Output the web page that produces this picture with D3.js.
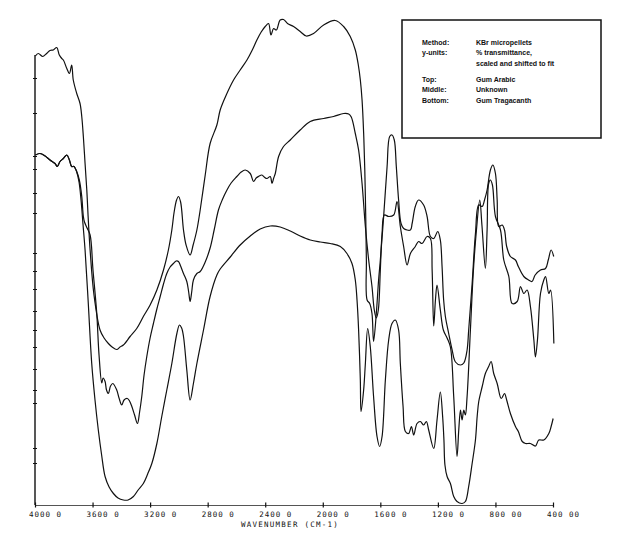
<!DOCTYPE html>
<html><head><meta charset="utf-8">
<script src="https://cdn.jsdelivr.net/npm/d3@7"></script>
<style>
html,body{margin:0;padding:0;background:#fff;}
svg{display:block;}
</style>
</head><body>
<svg id="chart" width="620" height="537"></svg>
<script>
// x-axis ticks (wavenumber, cm-1) and their printed labels
const wnTicks = [4000,3600,3200,2800,2400,2000,1600,1200,800,400];
const wnLabels = ["4000 0","3600 0","3200 0","2800 0","2400 0","2000 0","1600 0","1200 0","800 00","400 00"];
// y-axis tick marks (% transmittance, scaled and shifted)
const yTicks = [8.4,11.4,20.4,23,27.2,31.6,35,38.8,43.2,46.8,50.4,58.4,62.4,67.2,69.8,78.4,85.4];

// Top: Gum Arabic  [wavenumber, %T]
const gumArabic = [[3997,89.8],[3977,90.3],[3946,89.7],[3923,90.2],[3896,90.9],[3873,91.0],[3849,91.5],[3831,90.0],[3814,89.3],[3803,89.0],[3779,87.3],[3761,86.3],[3745,88.0],[3734,85.0],[3710,82.3],[3687,80.3],[3675,77.7],[3664,73.7],[3652,68.3],[3640,63.0],[3631,57.8],[3617,51.0],[3590,42.0],[3548,35.0],[3520,33.4],[3490,32.3],[3464,31.6],[3432,31.1],[3409,31.6],[3386,32.0],[3339,33.7],[3293,35.3],[3247,37.7],[3200,40.0],[3153,43.0],[3107,47.0],[3073,51.0],[3049,55.0],[3033,58.6],[3016,61.0],[3003,61.7],[2988,60.6],[2968,55.0],[2950,52.0],[2922,50.0],[2901,52.0],[2875,55.0],[2852,59.0],[2817,66.0],[2783,72.3],[2736,76.0],[2713,79.0],[2671,82.0],[2620,85.0],[2574,87.0],[2527,89.0],[2490,91.0],[2458,93.0],[2428,94.6],[2400,95.7],[2377,96.3],[2360,94.0],[2342,95.3],[2323,95.0],[2296,97.0],[2273,97.1],[2245,96.3],[2203,95.7],[2157,94.7],[2115,93.8],[2064,94.3],[1994,96.0],[1913,96.9],[1855,95.7],[1809,93.7],[1774,91.0],[1753,88.0],[1739,85.0],[1727,81.0],[1716,74.4],[1708,67.0],[1701,57.0],[1697,49.0],[1692,41.0],[1674,40.3],[1658,38.3],[1647,32.7],[1628,38.3],[1612,45.0],[1600,49.0],[1577,57.7],[1553,67.7],[1535,73.7],[1519,74.0],[1503,73.0],[1489,67.7],[1473,61.0],[1456,56.3],[1438,55.3],[1391,55.0],[1379,56.3],[1357,59.7],[1334,61.0],[1299,60.0],[1275,57.7],[1252,53.7],[1229,53.3],[1201,54.7],[1183,53.0],[1171,47.7],[1160,41.0],[1148,37.7],[1125,34.3],[1101,31.0],[1078,28.6],[1043,28.0],[1020,28.4],[997,31.0],[986,35.0],[962,44.3],[939,54.3],[916,60.0],[892,59.7],[876,61.0],[858,63.0],[835,67.0],[818,68.0],[800,66.3],[788,61.0],[777,55.7],[753,56.0],[737,55.0],[722,51.7],[696,49.7],[661,49.0],[641,47.7],[603,45.7],[570,45.0],[546,44.7],[524,46.0],[487,47.0],[452,47.3],[433,49.0],[413,51.0],[395,49.7]];

// Middle: Unknown
const unknown = [[3997,70.0],[3965,70.3],[3930,69.8],[3896,69.0],[3861,68.3],[3845,67.7],[3826,68.7],[3803,69.3],[3779,70.0],[3761,69.0],[3745,67.7],[3729,67.7],[3710,66.7],[3692,65.0],[3675,61.7],[3664,57.7],[3656,56.6],[3638,55.4],[3617,54.0],[3597,47.0],[3571,38.4],[3555,30.0],[3536,24.4],[3527,25.4],[3513,24.7],[3503,23.0],[3490,22.3],[3475,23.8],[3459,24.3],[3432,23.0],[3416,21.4],[3397,20.0],[3381,21.0],[3358,21.3],[3343,20.8],[3327,19.7],[3308,18.0],[3288,16.3],[3273,18.6],[3258,21.7],[3242,26.0],[3223,29.7],[3200,33.4],[3177,36.3],[3153,39.2],[3130,41.7],[3107,44.2],[3084,46.3],[3061,47.6],[3038,48.3],[3019,48.8],[3003,48.7],[2988,47.8],[2968,46.3],[2945,44.7],[2932,42.6],[2922,40.7],[2911,42.6],[2899,45.0],[2875,46.3],[2852,46.7],[2817,48.6],[2783,51.4],[2755,55.0],[2725,59.0],[2699,61.0],[2666,63.0],[2637,64.4],[2597,65.7],[2567,66.6],[2539,67.0],[2504,66.3],[2481,64.7],[2463,65.4],[2447,65.7],[2423,66.0],[2407,65.6],[2388,65.3],[2365,65.7],[2353,64.3],[2341,65.4],[2330,66.3],[2307,69.7],[2273,71.7],[2226,73.0],[2157,75.0],[2087,76.7],[1994,77.3],[1925,77.7],[1855,78.3],[1820,78.2],[1802,77.6],[1774,74.3],[1751,71.0],[1727,64.3],[1704,55.7],[1681,49.0],[1658,43.7],[1642,39.0],[1628,37.4],[1614,39.0],[1600,47.0],[1588,54.3],[1572,58.0],[1542,57.7],[1507,58.0],[1484,60.7],[1461,55.7],[1438,51.7],[1414,48.0],[1391,50.3],[1357,51.7],[1334,52.7],[1310,52.3],[1275,53.7],[1252,53.3],[1240,47.0],[1229,35.8],[1217,41.0],[1206,44.0],[1183,39.0],[1162,35.0],[1136,33.4],[1113,31.6],[1090,21.7],[1067,9.7],[1055,15.0],[1043,19.0],[1032,17.0],[1020,19.0],[1009,18.0],[997,21.7],[974,35.0],[953,47.0],[932,55.0],[909,61.0],[894,56.0],[870,47.3],[858,55.0],[847,64.3],[835,65.0],[821,64.0],[800,57.7],[765,55.0],[742,49.0],[707,45.7],[684,40.3],[649,40.7],[626,43.7],[603,42.3],[580,43.0],[557,39.7],[533,33.0],[522,29.6],[508,33.0],[487,42.3],[464,45.0],[452,45.7],[429,42.3],[417,43.0],[394,32.3]];

// Bottom: Gum Tragacanth
const gumTragacanth = [[3997,70.0],[3965,70.3],[3930,69.8],[3896,69.0],[3861,68.3],[3845,67.7],[3826,68.7],[3803,69.3],[3779,70.0],[3761,69.0],[3745,67.7],[3729,67.7],[3710,66.6],[3694,64.6],[3680,61.0],[3666,56.0],[3652,51.0],[3631,41.0],[3606,28.4],[3583,21.0],[3560,15.0],[3537,10.0],[3513,5.7],[3485,3.6],[3455,2.3],[3423,1.4],[3386,1.0],[3353,1.0],[3316,1.7],[3283,3.0],[3247,4.3],[3217,6.2],[3188,8.3],[3153,12.3],[3119,17.7],[3084,23.0],[3049,28.3],[3014,34.3],[2996,36.0],[2981,35.4],[2968,33.7],[2945,27.0],[2922,21.0],[2899,24.3],[2875,28.3],[2829,35.0],[2783,41.7],[2736,46.0],[2713,47.2],[2643,49.6],[2574,52.0],[2504,53.8],[2435,55.2],[2365,55.8],[2296,55.6],[2226,54.8],[2157,53.8],[2087,53.0],[2017,52.6],[1948,52.3],[1878,51.7],[1832,50.3],[1797,48.3],[1774,45.0],[1762,41.0],[1751,35.0],[1739,25.0],[1734,18.7],[1716,23.0],[1704,28.3],[1688,35.3],[1670,31.7],[1647,21.7],[1623,13.7],[1605,11.7],[1588,13.7],[1565,25.0],[1542,33.0],[1519,36.3],[1496,37.0],[1473,35.0],[1461,28.3],[1442,19.7],[1426,14.7],[1403,14.3],[1384,15.7],[1368,14.0],[1345,16.3],[1322,16.7],[1299,16.0],[1280,16.7],[1264,15.0],[1229,11.3],[1206,17.0],[1183,22.6],[1167,17.7],[1158,13.0],[1151,8.0],[1136,5.7],[1113,4.3],[1090,1.7],[1067,0.7],[1032,0.3],[1009,0.7],[986,3.7],[962,8.3],[939,13.0],[927,17.7],[916,20.7],[892,23.7],[870,26.3],[847,27.7],[830,28.7],[812,26.3],[788,24.3],[760,21.3],[737,22.3],[722,21.0],[696,18.3],[661,15.7],[641,14.7],[614,12.7],[591,12.3],[557,12.3],[522,11.8],[499,13.0],[464,13.0],[429,14.3],[413,15.7],[399,17.3]];

// legend text
const legendKeys = ["Method:","y-units:","","Top:","Middle:","Bottom:"];
const legendVals = ["KBr micropellets","% transmittance,","scaled and shifted to fit","Gum Arabic","Unknown","Gum Tragacanth"];

const svg = d3.select("#chart");
const x = d3.scaleLinear().domain([4000,400]).range([35,553]);
const y = d3.scaleLinear().domain([0,100]).range([505,5]);

// x axis
const xAxis = d3.axisBottom(x).tickValues(wnTicks).tickSize(0).tickFormat("");
const gx = svg.append("g").attr("transform","translate(0,505)").call(xAxis);
gx.select(".domain").attr("stroke","#555").attr("stroke-width",1);
gx.selectAll(".tick").each(function(d,i){
  const g = d3.select(this);
  g.append("line").attr("y1",-2.5).attr("y2",2.5).attr("stroke","#111").attr("stroke-width",1.2);
  g.append("text").attr("x",-6.5).attr("y",12).attr("text-anchor","start")
    .attr("fill","#111").attr("font-family","'DejaVu Sans Mono', monospace")
    .attr("font-size","7.5px").attr("letter-spacing","1px").text(wnLabels[i]);
});
svg.append("text").attr("x",241).attr("y",527).attr("fill","#111")
  .attr("font-family","'DejaVu Sans Mono', monospace").attr("font-size","7.5px")
  .attr("letter-spacing","1.25px").text("WAVENUMBER (CM-1)");

// y axis
const yAxis = d3.axisLeft(y).tickValues(yTicks).tickSize(0).tickFormat("");
const gy = svg.append("g").attr("transform","translate(35,0)").call(yAxis);
gy.select(".domain").remove();
gy.append("line").attr("y1",y(0)).attr("y2",y(90)).attr("stroke","#111").attr("stroke-width",1.4);
gy.selectAll(".tick").append("line").attr("x1",-2).attr("x2",2).attr("stroke","#111").attr("stroke-width",1);

// curves
const line = d3.line().x(d=>x(d[0])).y(d=>y(d[1])).curve(d3.curveCatmullRom.alpha(0.5));
[gumArabic, unknown, gumTragacanth].forEach(s=>{
  svg.append("path").datum(s).attr("d",line).attr("fill","none")
    .attr("stroke","#111").attr("stroke-width",1.2).attr("stroke-linejoin","round");
});

// legend box
const lg = svg.append("g");
lg.append("rect").attr("x",402).attr("y",20).attr("width",199).attr("height",118)
  .attr("fill","#fff").attr("stroke","#111").attr("stroke-width",1.5);
const baselines = [44.5,55.3,66,81.5,92.2,103];
legendKeys.forEach((k,i)=>{
  lg.append("text").attr("x",422).attr("y",baselines[i]).attr("font-family","'Liberation Sans', Arial, sans-serif")
    .attr("font-weight","bold").attr("font-size","7px").attr("fill","#111").text(k);
  lg.append("text").attr("x",476).attr("y",baselines[i]).attr("font-family","'Liberation Sans', Arial, sans-serif")
    .attr("font-weight","bold").attr("font-size","7px").attr("fill","#111").text(legendVals[i]);
});
</script>
</body></html>
